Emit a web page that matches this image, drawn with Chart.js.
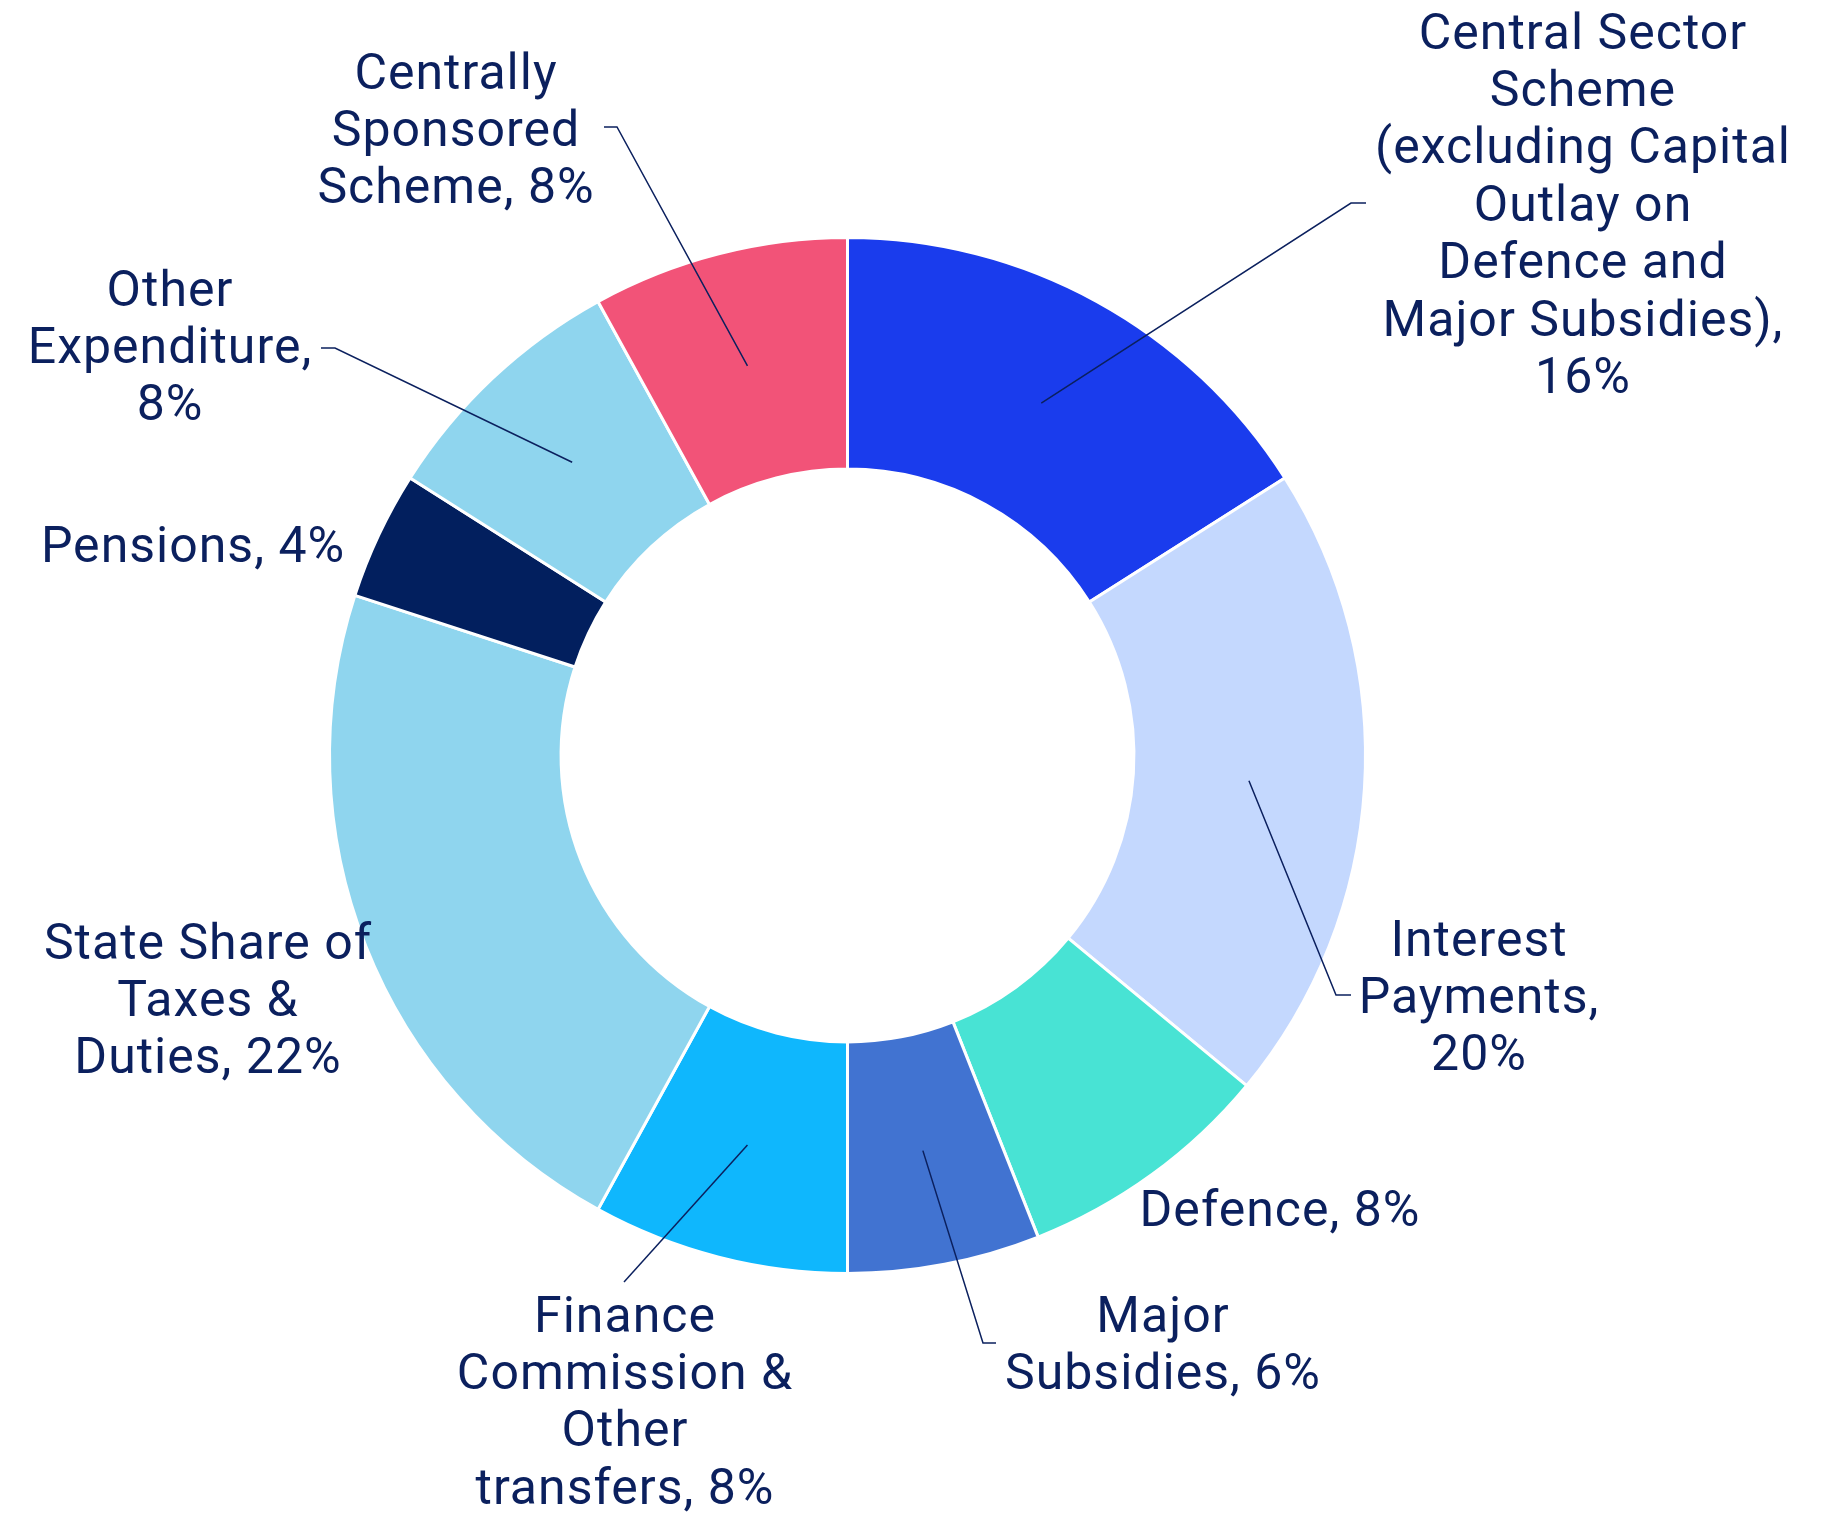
<!DOCTYPE html>
<html>
<head>
<meta charset="utf-8">
<title>Expenditure share</title>
<script src="https://cdn.jsdelivr.net/npm/chart.js@4.4.0/dist/chart.umd.min.js"></script>
<style>
  html, body { margin: 0; padding: 0; background: #fff; }
  #chart { display: block; }
</style>
</head>
<body>
<canvas id="chart" width="1842" height="1514"></canvas>
<script>
// Data
const categories = [
  'Central Sector Scheme (excluding Capital Outlay on Defence and Major Subsidies)',
  'Interest Payments',
  'Defence',
  'Major Subsidies',
  'Finance Commission & Other transfers',
  'State Share of Taxes & Duties',
  'Pensions',
  'Other Expenditure',
  'Centrally Sponsored Scheme',
];
const shares = [16, 20, 8, 6, 8, 22, 4, 8, 8];

// How each label wraps; {p} is replaced by the share
const labelWraps = [
  ['Central Sector', 'Scheme', '(excluding Capital', 'Outlay on', 'Defence and', 'Major Subsidies),', '{p}'],
  ['Interest', 'Payments,', '{p}'],
  ['Defence, {p}'],
  ['Major', 'Subsidies, {p}'],
  ['Finance', 'Commission &', 'Other', 'transfers, {p}'],
  ['State Share of', 'Taxes &', 'Duties, {p}'],
  ['Pensions, {p}'],
  ['Other', 'Expenditure,', '{p}'],
  ['Centrally', 'Sponsored', 'Scheme, {p}'],
];

const colors = ['#1a3ced', '#c4d8fe', '#48e3d4', '#4173d1', '#0fb7fd', '#8fd5ee', '#021f5e', '#8fd5ee', '#f25378'];

// Label placement (text centre of first line, leader elbow and end)
const labelLayout = [
  { x: 1583, y: 36, elbow: [1351, 203], end: [1366, 203] },
  { x: 1479, y: 943, elbow: [1336, 995], end: [1351, 995] },
  { x: 1280, y: 1213 },
  { x: 1163, y: 1319, elbow: [983, 1343], end: [996, 1343] },
  { x: 625, y: 1319, elbow: [624, 1282], end: [624, 1282] },
  { x: 208, y: 946 },
  { x: 193, y: 549 },
  { x: 170, y: 293, elbow: [335, 348], end: [321, 348] },
  { x: 456, y: 76, elbow: [617, 127], end: [604, 127] },
];

const TEXT_COLOR = '#0b205e';
const LINE_HEIGHT = 57.4;

const outsideLabels = {
  id: 'outsideLabels',
  afterDatasetsDraw(chart) {
    const ctx = chart.ctx;
    const arcs = chart.getDatasetMeta(0).data;
    ctx.save();
    arcs.forEach((arc, i) => {
      const lay = labelLayout[i];
      // Leader line from the middle of the ring
      if (lay.elbow) {
        const p = arc.getProps(['x', 'y', 'startAngle', 'endAngle', 'innerRadius', 'outerRadius'], true);
        const mid = (p.startAngle + p.endAngle) / 2;
        const r = (p.innerRadius + p.outerRadius) / 2;
        ctx.beginPath();
        ctx.moveTo(p.x + Math.cos(mid) * r, p.y + Math.sin(mid) * r);
        ctx.lineTo(lay.elbow[0], lay.elbow[1]);
        ctx.lineTo(lay.end[0], lay.end[1]);
        ctx.strokeStyle = TEXT_COLOR;
        ctx.lineWidth = 1.5;
        ctx.stroke();
      }
      // Text
      ctx.fillStyle = TEXT_COLOR;
      ctx.font = '400 50px Roboto';
      ctx.letterSpacing = '1px';
      ctx.textAlign = 'center';
      ctx.textBaseline = 'middle';
      labelWraps[i].forEach((line, j) => {
        ctx.fillText(line.replace('{p}', shares[i] + '%'), lay.x, lay.y + j * LINE_HEIGHT);
      });
    });
    ctx.restore();
  },
};

const chart = new Chart(document.getElementById('chart'), {
  type: 'doughnut',
  data: {
    labels: categories,
    datasets: [{
      data: shares,
      backgroundColor: colors,
      borderColor: '#ffffff',
      borderWidth: 3,
    }],
  },
  options: {
    responsive: false,
    animation: false,
    devicePixelRatio: 1,
    cutout: '55.3%',
    layout: { padding: { left: 328, top: 236, right: 475, bottom: 239 } },
    plugins: {
      legend: { display: false },
      tooltip: { enabled: false },
    },
  },
  plugins: [outsideLabels],
});
</script>
</body>
</html>
